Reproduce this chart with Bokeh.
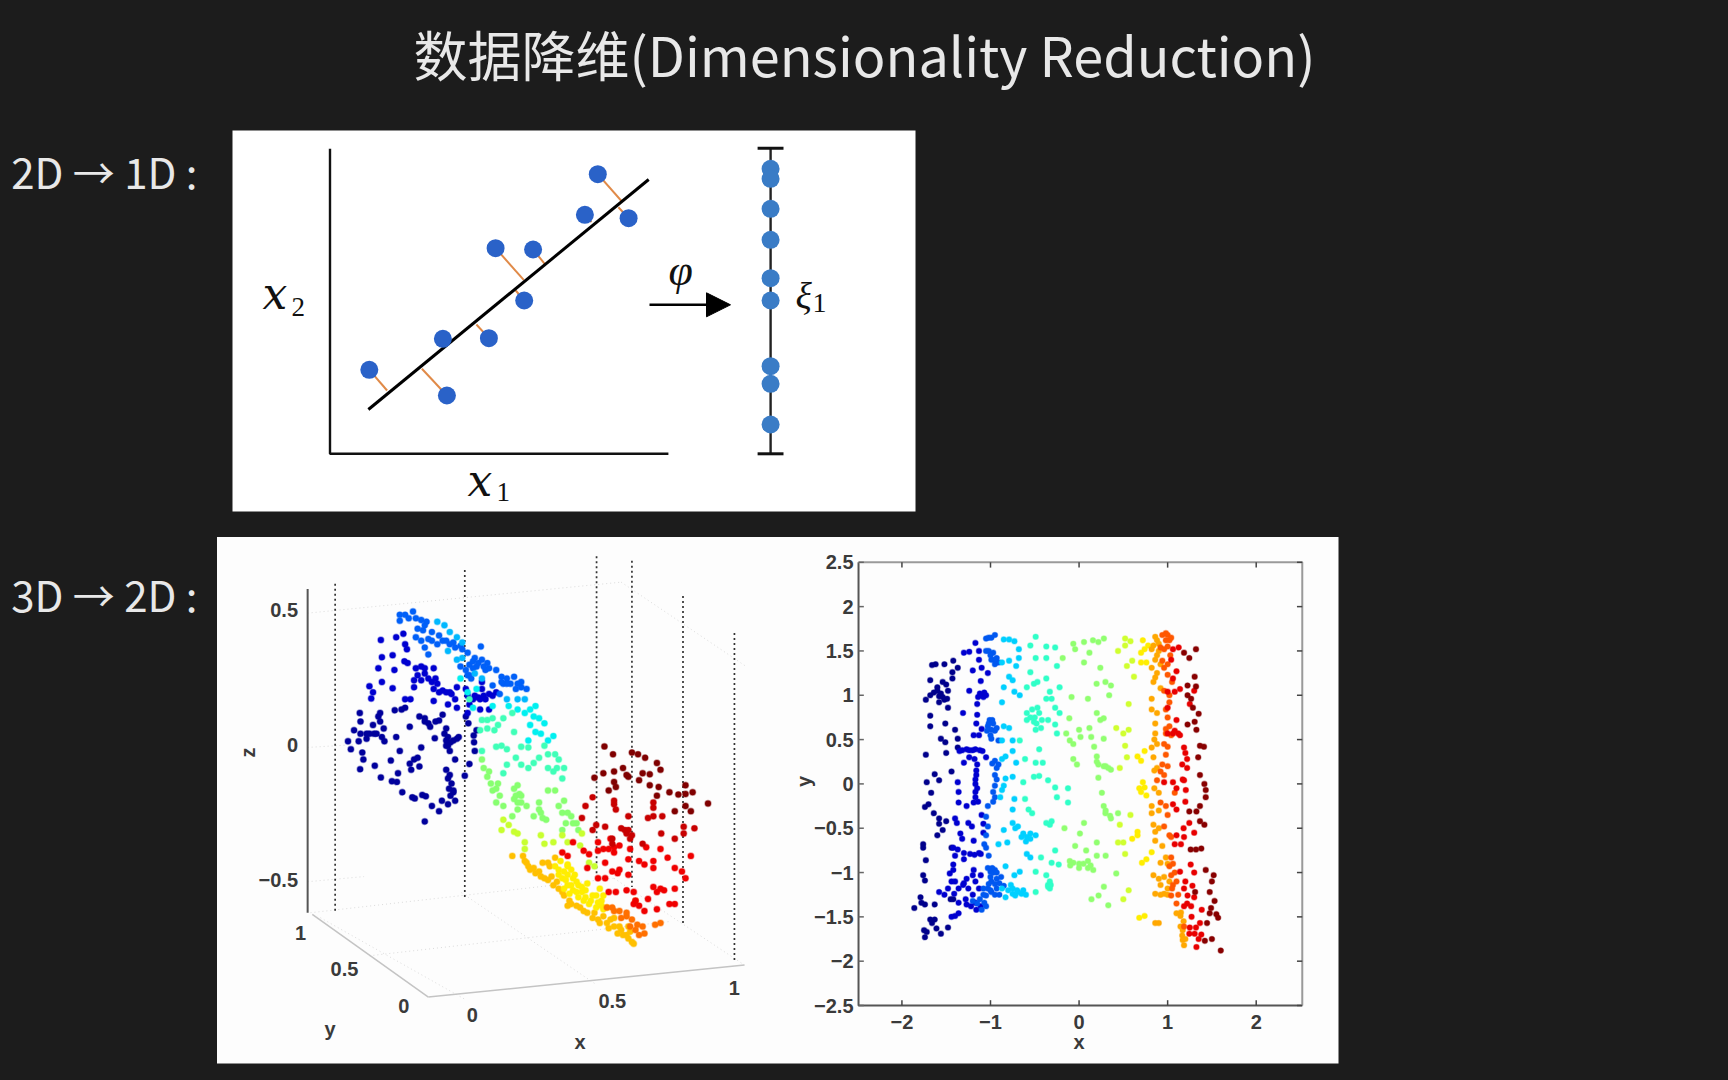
from bokeh.plotting import figure
from bokeh.embed import file_html
from bokeh.resources import INLINE
from bokeh.core.properties import value
from bokeh.models import Range1d, Arrow, NormalHead
import math

BG = "#1c1c1c"
TITLE = "数据降维(Dimensionality Reduction)"
LABEL_TOP = "2D → 1D :"
LABEL_BOTTOM = "3D → 2D :"

# ---- top diagram (read in page pixels)
pca_x = [368.8, 446.4, 442.4, 488.4, 523.7, 495.1, 532.6, 584.4, 628.1, 597.3]
pca_y = [369.3, 395.0, 338.3, 337.7, 300.0, 247.7, 249.0, 214.3, 217.7, 173.7]
foot_x = [386.6, 421.4, 446.9, 475.9, 515.2, 523.2, 544.2, 591.0, 617.9, 621.4]
foot_y = [390.0, 368.3, 335.0, 324.0, 290.0, 279.3, 263.3, 221.7, 206.7, 201.0]
foot_of = [0, 1, 2, 3, 4, 5, 6, 7, 8, 9]
xi_y = [168.3, 178.3, 208.3, 239.3, 277.7, 300.0, 365.7, 383.3, 424.0]

# ---- right panel, x/y data by colour band
navy_2d = [(-1.74,-1.73),(-1.75,-1.65),(-1.72,-1.67),(-1.68,-1.53),(-1.63,-1.53),(-1.66,-1.57),(-1.61,-1.63),(-1.56,-1.69),(-1.48,-1.62),
 (-1.86,-1.40),(-1.79,-1.28),(-1.78,-1.34),(-1.74,-1.36),(-1.63,-1.36),(-1.74,-1.09),(-1.76,-1.03),(-1.73,-.86),(-1.76,-.68),(-1.76,-.72),
 (-1.74,-.26),(-1.70,-.23),(-1.67,-.10),(-1.72,.02),(-1.58,.04),(-1.63,.11),(-1.73,.33),(-1.44,.14),(-1.64,-.33),(-1.58,-.39),(-1.60,-.58),
 (-1.50,-.42),(-1.54,-.52),(-1.68,.65),(-1.68,.77),(-1.51,.68),(-1.56,.51),(-1.51,.47),(-1.50,.35),(-1.40,.61),(-1.37,.51),(-1.37,.41),
 (-1.73,.95),(-1.68,1.0),(-1.64,1.03),(-1.58,.99),(-1.54,.98),(-1.49,.96),(-1.48,.86),(-1.60,1.09),(-1.54,1.15),(-1.68,1.17),(-1.66,1.34),
 (-1.62,1.35),(-1.52,1.35),(-1.43,1.26),(-1.43,1.19),(-1.42,1.39),(-1.37,1.31),
 (-1.56,1.02),(-1.52,.95),(-1.58,.92),(-1.60,1.05),(-1.48,1.05),(-1.50,1.12),(-1.58,-.45),(-1.44,-.72),(-1.45,-1.30),(-1.42,-1.30)]
blue_2d = [(-1.40,-1.49),(-1.44,-1.50),(-1.36,-1.46),(-1.58,-1.22),(-1.52,-1.25),(-1.48,-1.18),(-1.41,-1.24),(-1.44,-1.10),(-1.46,-1.01),(-1.42,-.91),
 (-1.40,-.81),(-1.30,-.85),(-1.23,-.79),(-1.11,-.79),(-1.42,-.72),(-1.37,-.74),(-1.34,-.56),(-1.32,-.62),(-1.38,-.44),(-1.40,-.39),(-1.25,-.44),(-1.21,-.48),(-1.19,-.64),
 (-1.37,.02),(-1.36,-.09),(-1.36,-.21),(-1.27,-.25),(-1.19,-.21),(-1.17,-.09),(-1.17,0),(-1.16,.10),(-1.15,.22),(-1.30,.24),(-1.24,.30),(-1.35,.37),(-1.27,.39),(-1.17,.39),
 (-1.09,.37),(-1.05,.30),(-1.19,.55),(-1.13,.55),(-1.31,.80),(-1.15,.78),(-1.16,.68),(-1.24,1.05),(-1.15,.90),(-1.11,1.0),(-1.05,1.0),(-1.11,1.16),(-1.20,1.28),(-1.10,1.31),
 (-1.03,1.25),(-1.13,1.40),(-1.13,1.50),(-1.17,1.59),(-1.30,1.48),(-1.24,1.49),(-1.31,-1.14),(-1.25,-1.18),(-1.27,-1.07),(-1.19,-.97),(-1.17,-1.10),(-1.11,-1.03),(-1.13,-1.18),
 (-1.36,-1.34),(-1.27,-1.36),(-1.22,-1.38),(-1.16,-1.42),(-1.11,-1.38),(-1.17,-1.34),
 (-1.17,.05),(-1.15,-.05),(-1.17,-.15),(-1.16,.15),(-1.18,.28),(-1.20,.38),(-1.12,.38),(-1.24,.38),(-1.32,.38),(-1.14,-.20),(-1.10,-.35),(-1.08,-.45),(-1.08,-.55),(-1.30,-.78),
 (-1.18,-.80),(-1.13,-.78),(-1.42,-.97),(-1.40,-1.10),(-1.36,-1.18),(-1.20,-1.25),(-1.28,-1.30),(-1.30,-1.12),(-1.20,-1.03),(-1.14,.98),(-1.08,.98),(-1.07,1.03),(-1.10,.62),(-1.12,1.02)]
azure_2d = [(-1.05,-1.26),(-1.07,-1.34),(-1.03,-1.18),(-.99,-1.10),(-1.0,-.99),(-.95,-.97),(-.93,-1.07),(-.99,-1.22),(-.93,-1.18),(-.90,-1.12),
 (-1.07,-.68),(-1.05,-.58),(-1.03,-.48),(-1.05,-.37),(-1.03,-.25),(-1.05,-.72),(-1.02,-.81),(-.95,.10),(-.95,-.02),(-.93,.18),(-.95,.26),(-.91,.22),(-.97,-.09),
 (-1.03,.65),(-.99,.61),(-1.01,.72),(-.97,.68),(-.99,.51),(-.91,.49),(-1.05,1.50),(-.97,1.48),(-.93,1.42),(-.99,1.40),(-1.05,1.64),(-.99,1.65),(-.95,1.68),(-.91,1.37),
 (-1.0,-1.05),(-.97,-1.0),(-.93,-1.0),(-.95,-1.13),(-1.02,-1.13),(-1.0,-1.2),(-.95,-1.25),(-.9,-1.25),(-1.08,-1.25),(-1.12,-1.3),(-1.15,-1.35),(-1.1,-1.42),(-1.05,-1.38),(-1.2,-1.32),
 (-1.08,-1.18),(-.98,-.95),(-.88,-1.05),(-.85,-1.15),(-1.02,.68),(-1.04,.6),(-.95,.6),(-.98,.72),(-.93,.63),(-1.0,.55),(-.98,.23),(-.93,.05),(-.95,-.15),(-.97,-.2),(-1.02,1.5),
 (-1.0,1.45),(-.96,1.4),(-.95,1.35),(-1.02,1.65),(-1.03,-.95)]
sky_2d = [(-.85,1.63),(-.79,1.63),(-.73,1.61),(-.87,1.37),(-.79,1.39),(-.71,1.33),(-.68,1.52),(-.68,1.42),(-.79,1.21),(-.75,1.17),(-.73,1.04),(-.67,1.0),(-.85,1.09),(-.87,.92),
 (-.85,.65),(-.79,.63),(-.75,.49),(-.87,.49),(-.87,.28),(-.83,.31),(-.71,.24),(-.75,.37),(-.83,.06),(-.75,.08),(-.87,-.07),(-.89,-.15),(-.85,-.02),(-.73,-.17),(-.75,-.29),
 (-.85,-.52),(-.91,-.68),(-.81,-.66),(-.75,-.44),(-.69,-.48),(-.63,-.56),(-.59,-.60),(-.55,-.56),(-.49,-.58),(-.83,-.93),(-.87,-1.18),(-.83,-1.28),(-.77,-1.14),(-.75,-1.24),
 (-.69,-1.22),(-.63,-1.20),(-.67,-.99),(-.73,-1.03),(-.59,-.79),(-.55,-.83),
 (-.8,-1.2),(-.72,-1.26),(-.7,-1.2),(-.75,-1.18),(-.65,-1.24),(-.6,-1.25),(-.6,-.65),(-.55,-.62),(-.65,-.6),(-.72,-.5)]
teal_2d = [(-.49,1.66),(-.55,1.56),(-.49,1.42),(-.55,1.26),(-.59,1.09),(-.51,1.13),(-.47,1.15),(-.59,.80),(-.53,.84),(-.47,.86),(-.59,.72),(-.51,.70),(-.49,.61),(-.43,.63),(-.45,.80),
 (-.67,.49),(-.45,.39),(-.61,.28),(-.49,.24),(-.41,.24),(-.63,.02),(-.51,.08),(-.45,.09),(-.61,-.17),(-.57,-.29),(-.53,-.33),(-.49,-.99),(-.49,-1.22),(-.43,-.83),(-.37,-.44),
 (-.31,-.42),(-.33,-.46),(-.35,-1.14),(-.33,-1.10),(-.37,-1.03),(-.31,-.89),(-.27,-.75),(-.23,-.91),(-.27,-.04),(-.25,-.15),(-.125,-.05),(-.125,-.21),(-.35,.04),
 (-.37,1.55),(-.27,1.54),(-.37,1.42),(-.25,1.33),(-.37,1.19),(-.33,1.04),(-.22,1.09),(-.31,.96),(-.27,.86),(-.22,.80),(-.35,.72),(-.27,.67),(-.25,.57),(-.37,.96),
 (-.55,.75),(-.5,.75),(-.48,.68),(-.42,.72),(-.33,-1.18),(-.35,-1.16),(-.32,-1.14)]
green_2d = [(-.165,-.50),(-.105,-.87),(-.044,-.70),(-.065,-.89),(0,-.95),(.08,-.75),(.056,-.44),(.01,-.56),(.10,-.87),(.16,-.97),(.2,-.81),(.30,-.81),(.2,-.66),(.28,-1.16),(.22,-1.26),
 (.14,-1.30),(.33,-1.37),(.42,-1.01),(-.085,.98),(.10,.96),(-.11,.74),(-.145,.57),(-.105,.49),(-.065,.45),(0,.61),(.016,.53),(.117,.63),(.137,.53),(.278,.51),(.17,.42),
 (-.044,1.52),(-.065,1.58),(.056,1.60),(.157,1.62),(.218,1.60),(.28,1.64),(.117,1.48),(.056,1.37),(-.185,1.42),(.24,1.31),(.198,1.13),(.298,1.15),(.36,1.11),(.34,1.0),(.2,.80),
 (.24,.72),(.278,.74),(-.024,.22),(-.065,.28),(.2,.31),(.218,.22),(.278,.20),(.36,.16),(.218,.07),(.258,-.10),(.278,-.25),(.298,-.33),(.36,-.39),(.44,-.33),
 (0,-.9),(.05,-.9),(.1,-.95),(.13,-.92),(-.1,-.92),(.2,.25),(.3,.2),(.33,.18),(.35,-.36),(.3,-.3)]
lime_2d = [(.46,-.46),(.5,-.66),(.44,-.66),(.56,-1.2),(.5,-1.3),(.58,-.35),(.52,-.79),(.46,.18),(.54,.30),(.52,.43),(.5,.57),(.56,.61),(.42,.63),(.54,1.33),(.6,1.39),(.52,1.64),
 (.58,1.61),(.52,1.56),(.44,1.5),(.56,.9),(.62,1.21)]
yellow_2d = [(.68,-1.51),(.74,-1.49),(.71,-.89),(.76,-.85),(.82,-.77),(.66,-.58),(.6,-.62),(.66,-.54),(.70,-.09),(.74,-.04),(.72,.02),(.76,-.13),(.68,-.05),(.66,.31),(.70,.26),(.74,.37),
 (.74,1.52),(.70,1.48),(.72,1.62),(.78,1.56),(.76,1.37),(.70,1.37)]
orange_2d = [(.86,-1.57),(.90,-1.57),(.86,-1.24),(.90,-1.07),(.84,-1.03),(.96,-1.24),(1.0,-1.18),(.92,-1.14),(.92,-.89),(.98,-.83),(.86,-.64),(.86,-.54),(.84,-.46),(.82,-.25),(.82,-.33),
 (.84,.30),(.82,.41),(.86,.57),(.86,.68),(.82,.84),(.82,.96),(.84,1.15),(.82,1.31),(.86,1.40),(.82,1.52),(.86,1.66),(.90,1.58),(.84,1.56),(1.165,-1.71),(1.185,-1.82),(1.145,-1.61),
 (1.10,-1.46),(1.145,-1.49),(1.17,-1.76),
 (.88,1.62),(.9,1.5),(.88,1.45),(.92,1.35),(.88,1.25),(.86,1.2),(.92,1.08),(.88,.8),(.85,.5),(.88,.45),(.85,.15),(.88,.18),(.85,-.05),(.9,-.1),(.9,-.3),(.9,-.5),(.94,-.7),(1.0,-.9),
 (1.02,-1.1),(1.0,-1.25),(1.15,-1.45),(1.18,-1.55),(1.17,-1.65),(1.2,-1.75),(.96,-1.05),(.92,-1.25)]
ember_2d = [(.94,1.68),(.98,1.70),(.98,1.62),(.92,1.54),(.96,1.52),(1.02,1.62),(.94,1.39),(.96,1.31),(1.0,1.23),(.96,1.05),(.98,.84),(.98,.57),(.96,.45),(.98,.33),(.94,.22),(.92,.14),
 (.88,.04),(.92,-.21),(.98,-.25),(.96,-.48),(1.02,-.58),(1.04,-.83),(1.02,-.93),(1.04,-1.03),(1.06,-1.14),(1.04,-1.26),(1.185,-1.61),
 (1.0,1.68),(1.04,1.65),(1.0,1.55),(1.03,1.45),(1.0,1.35),(1.05,1.15),(1.02,1.0),(1.02,.92),(1.0,.75),(1.02,.65),(.98,.62),(1.04,.55),(1.0,.42),(1.0,.2),(.96,.1),(1.0,-.35),(1.08,-.1),
 (1.04,-.6),(1.06,-.9),(1.08,-1.0),(1.1,-1.1),(1.1,-1.35),(1.12,-1.25),(1.05,-1.18)]
red_2d = [(1.06,1.52),(1.125,1.54),(1.04,1.40),(1.10,1.27),(1.06,1.19),(1.0,1.04),(1.08,1.04),(1.14,1.07),(1.0,.86),(1.10,.72),(1.0,.57),(1.06,.57),(1.14,.55),(1.185,.41),(1.165,.22),
 (1.22,.18),(.96,.02),(1.06,.02),(1.185,.04),(1.205,-.07),(1.06,-.23),(1.10,-.29),(1.245,-.44),(1.185,-.60),(1.10,-.58),(1.08,-.68),(1.14,-.99),(1.26,-.91),(1.185,-1.18),(1.225,-1.26),
 (1.265,-1.38),(1.185,-1.38),(1.245,-1.69),(1.325,-1.84),(1.305,-1.69),(1.365,-1.57),(1.385,-1.42),
 (1.08,.6),(1.12,.57),(1.2,.35),(1.22,.28),(1.17,.05),(1.1,-.05),(1.2,-.2),(1.18,-.5),(1.15,-.68),(1.2,-1.1),(1.3,-1.0),(1.28,-1.15),(1.22,-1.35),(1.27,-1.5),(1.25,-1.62),(1.32,-1.62),
 (1.38,-1.7),(1.35,-1.75),(1.3,-1.28),(1.3,-.55),(1.25,.9),(1.3,1.05)]
maroon_2d = [(1.32,1.52),(1.185,1.48),(1.245,1.42),(1.305,1.21),(1.225,1.11),(1.32,1.10),(1.225,1.0),(1.265,.96),(1.285,.86),(1.35,.79),(1.305,.70),(1.225,.67),(1.325,.61),(1.365,.43),
 (1.41,.42),(1.345,.30),(1.365,.10),(1.415,0),(1.43,-.07),(1.43,-.15),(1.365,-.25),(1.325,-.31),(1.245,-.31),(1.365,-.42),(1.415,-.46),(1.26,-.74),(1.32,-.74),(1.38,-.73),(1.43,-.97),
 (1.52,-1.03),(1.50,-1.10),(1.31,-1.22),(1.475,-1.22),(1.53,-1.32),(1.49,-1.40),(1.475,-1.46),(1.55,-1.47),(1.57,-1.51),(1.445,-1.57),(1.50,-1.75),(1.42,-1.77),(1.60,-1.88)]
bands_2d = [(navy_2d,"#00008c"),(blue_2d,"#0000d0"),(azure_2d,"#0058f0"),(sky_2d,"#00d0ff"),(teal_2d,"#30ffc8"),(green_2d,"#90ff70"),
            (lime_2d,"#d0ff30"),(yellow_2d,"#ffee00"),(orange_2d,"#ffa800"),(ember_2d,"#ff5800"),(red_2d,"#e80000"),(maroon_2d,"#880000")]
xticks_2d = [-2, -1, 0, 1, 2]
xtick_labels_2d = ["−2", "−1", "0", "1", "2"]
yticks_2d = [-2.5, -2, -1.5, -1, -0.5, 0, 0.5, 1, 1.5, 2, 2.5]
ytick_labels_2d = ["−2.5", "−2", "−1.5", "−1", "−0.5", "0", "0.5", "1", "1.5", "2", "2.5"]

# ---- left panel: the projected picture of the 3D cloud
navy_3d = [(385,612),(393,635),(402,580),(415,612),(418,530),(420,555),(425,645),(428,665),(419,693),(437,590),(437,605),(455,565),(458,590),(465,590),(485,575),(470,540),(475,530),(480,600),
 (487,612),(520,600),(460,683),(477,717),(505,668),(508,728),(525,705),(522,730),(530,640),(537,760),(565,775),(572,778),(593,768),(603,772),(600,845),(620,800),(640,815),(648,785),(665,795),
 (685,785),(680,760),(675,735),(670,710),(660,695),(680,755),(712,712),(725,678),(558,677),(570,665),(580,660),(590,630),(562,695),(585,685),(628,603),(600,555),(615,570),(630,555),(640,552),
 (585,540),(558,570),(516,522),(535,520),(545,515),(655,590),(660,610),(665,625),(670,640),(680,610),(695,600),(660,575),(685,665),(737,595),(738,615),(740,640),(715,540),(745,580),(722,560),(650,535),
 (665,600),(672,615),(690,605),(660,625),(665,720),(668,750),(672,770),(600,545),(610,560),(420,590),(445,590),(475,555)]
blue_3d = [(477,318),(470,400),(480,368),(510,362),(515,405),(480,440),(445,452),(455,470),(450,488),(510,458),(520,310),(540,300),(545,330),(550,345),(543,380),(552,385),(575,400),(590,395),(580,420),
 (570,435),(600,415),(625,400),(570,455),(620,440),(635,445),(625,460),(640,470),(660,470),(675,475),(685,490),(625,495),(560,490),(545,490),(665,505),(690,515),(725,505),(735,490),(750,485),(770,490),
 (780,475),(800,470),(760,440),(755,520),(780,520),(720,530),(715,460),(690,455),
 (600,400),(610,430),(590,435),(630,430),(650,465),(670,470),(740,480),(765,480),(790,480),(760,460),(755,490),(720,480)]
azure_3d = [(530,245),(545,245),(567,235),(530,262),(575,255),(590,260),(605,265),(580,285),(595,290),(575,310),(590,320),(610,315),(600,340),(610,360),(620,320),(635,330),(650,320),(670,330),(685,340),
 (705,345),(720,355),(740,370),(760,375),(775,385),(725,390),(715,405),(725,420),(745,395),(770,405),(757,337),(800,405),(815,425),(830,430),(850,425),(870,440),(885,460),(840,445),(855,460),(820,445),(790,450),(810,475),
 (555,255),(600,275),(620,295),(640,305),(660,320),(680,325),(700,335),(735,380),(750,385),(765,395),(735,400),(780,400),(830,445),(860,445),(870,455),(815,440),(720,420),(730,430),(700,395)]
sky_3d = [(635,265),(655,275),(670,295),(690,310),(705,325),(665,350),(690,375),(705,370),(740,415),(760,430),(860,490),(880,490),(830,490)]
cyan_3d = [(700,430),(720,470),(745,460),(735,515),(790,510),(835,510),(860,520),(895,520),(910,510),(920,545),(905,540),(935,560),(895,565),(910,585),(925,590),(945,610),(960,597),(890,610),(880,530)]
teal_3d = [(725,490),(760,550),(775,550),(790,545),(805,565),(820,545),(845,530),(795,580),(775,575),(850,585),(755,580),(800,628),(815,625),(830,635),(870,628),(890,630),(935,625),(945,650),(965,650),
 (975,665),(990,690),(970,690),(855,660),(830,680),(870,680),(890,690),(905,675),(920,660),(945,690),(960,700),(985,720),(820,705),(760,640)]
green_3d = [(765,690),(775,715),(785,735),(805,735),(760,665),(790,755),(810,770),(860,740),(865,765),(850,780),(870,790),(860,810),(885,800),(945,755),(965,755),(990,785),(975,800),(920,790),(905,830),
 (925,820),(940,840),(985,820),(995,850),(1010,830),(1025,850),(1030,870),(800,790),(820,800),(845,830),(850,750),(855,770),(870,770),(860,790),(800,750),(780,700),(920,810),(930,835),(1000,820),(1015,850),(985,870)]
lime_3d = [(820,840),(835,855),(850,875),(860,880),(880,905),(880,925),(925,885),(935,910),(960,905),(985,885),(1000,905),(1040,880),(1035,915),(1060,965),(1075,975),(815,870)]
gold_3d = [(845,945),(875,945),(885,965),(895,985),(910,995),(925,1005),(945,1015),(960,1030),(985,1050),(1005,1075),(1035,1095),(1055,1110),(1085,1130),(1110,1140),(1130,1150),(1150,1160),(1170,1185),
 (1185,1200),(930,965),(950,975),(1000,1090),(1130,1125),(1155,1175),(1100,1120),(1075,1110),
 (890,975),(905,980),(880,960),(920,990),(935,1010),(955,1005),(970,1020),(975,1040),(990,1060),(1010,1085),(1025,1090),(1045,1105),(1070,1125),(1090,1140),(1115,1155),(1140,1170),(1165,1175),(1175,1165),
 (945,965),(965,950),(1120,1130),(1145,1150),(1170,1150),(1180,1195)]
yellow_3d = [(980,960),(975,985),(990,990),(985,1010),(1000,1030),(1015,1045),(1030,1065),(1045,1075),(1060,1085),(1080,1095),(1100,1100),(1090,1040),(1055,1025),(1000,975),(1015,1010),(1030,1030),(1070,1060),(1095,1075),(1005,1055),
 (965,975),(1000,1000),(975,1000),(1010,985),(1025,1020),(995,1015),(1010,1030),(1040,1050),(1025,1050),(1050,1045),(1065,1075),(1085,1080),(1050,1065),(1080,1060),(1100,1060),(1095,1090),(1110,1095),(1040,1035),(990,1040),(1000,970),(1020,1000)]
orange_3d = [(1125,1095),(1145,1105),(1165,1120),(1180,1130),(1195,1145),(1215,1170),(1200,1175),(1245,1145),(1260,1140),(1190,1075),(1165,1110),(1130,1105),(1150,1125),(1175,1150),(1190,1160),(1210,1150),(1110,1095)]
red_3d = [(985,935),(1000,945),(1015,905),(1045,930),(1060,940),(1085,905),(1085,930),(1100,925),(1120,895),(1130,920),(1145,915),(1105,965),(1125,990),(1145,985),(1170,1000),(1085,1010),(1115,1050),(1135,1050),(1165,1045),
 (1185,1050),(1185,1085),(1190,1075),(1215,1105),(1225,1070),(1250,1100),(1285,1085),(1300,1085),(1240,1035),(1260,1040),(1250,1050),(1300,1040),(1215,970),(1240,980),(1260,925),(1280,950),(1300,980),(1320,990),(1330,1010),
 (1175,925),(1220,920),(1170,955),(1345,945),(1105,1010),(1055,980),(1240,960),(1200,960),(1130,935),(1115,925),(1140,995),(1270,1045),(1200,1090)]
crimson_3d = [(1040,835),(1070,870),(1080,855),(1105,860),(1050,800),(1130,795),(1135,810),(1170,830),(1150,865),(1165,880),(1180,885),(1210,910),(1225,835),(1240,830),(1265,830),(1262,880),(1300,895),(1325,860),(1325,880),(1355,865),
 (1240,790),(1240,805),(1125,895),(1125,910),(1070,775),(1160,870),(1170,870),(1175,895),(1130,785)]
maroon_3d = [(1103,627),(1127,650),(1180,645),(1197,650),(1217,660),(1250,675),(1260,695),(1075,718),(1100,705),(1130,700),(1155,690),(1165,710),(1200,725),(1210,705),(1230,708),(1130,730),(1115,755),(1135,745),(1230,740),(1255,745),
 (1285,760),(1310,767),(1330,740),(1330,765),(1350,760),(1393,793),(1330,800),(1300,815),(1345,815),(1250,770),(1170,715)]
bands_3d = [(navy_3d,"#00009c"),(blue_3d,"#0000d0"),(azure_3d,"#0060f8"),(sky_3d,"#00b8ff"),(cyan_3d,"#00f0f0"),(teal_3d,"#40ffb8"),(green_3d,"#88ff70"),
            (lime_3d,"#c8ff30"),(gold_3d,"#ffc000"),(yellow_3d,"#ffee00"),(orange_3d,"#ff7000"),(red_3d,"#f00000"),(crimson_3d,"#c80000"),(maroon_3d,"#800000")]
stems_x = [349, 712, 1081, 1180, 1323, 1467]
stems_top = [155, 115, 75, 88, 190, 298]
stems_bottom = [1105, 1065, 995, 1035, 1140, 1250]
box_lines = [((272,240),(1150,150)),((1150,150),(1500,395)),((280,1110),(1130,1010)),((1130,1010),(1495,1262)),((445,1235),(1290,1135)),((710,1360),(300,1120)),((1075,1315),(700,1050)),((272,630),(400,622)),((272,1020),(430,1005))]
frame_lines = [((285,1115),(610,1355)),((610,1355),(1495,1262))]
labels_3d = [("0.5",245,232,"right"),("0",245,623,"right"),("−0.5",245,1015,"right"),("1",252,1168,"center"),("0.5",375,1272,"center"),("0",541,1380,"center"),
             ("y",335,1447,"center"),("0",733,1408,"center"),("0.5",1125,1365,"center"),("1",1467,1330,"center"),("x",1035,1485,"center")]

W, H = 1728, 1080
p = figure(width=W, height=H, x_range=Range1d(0, W), y_range=Range1d(H, 0), x_axis_type=None, y_axis_type=None,
           output_backend="svg", toolbar_location=None, min_border=0, outline_line_color=None,
           background_fill_color=BG, border_fill_color=BG)
p.grid.visible = False
# image-style frame for the 3D picture (zoom pixels) and data range for the 2D one
p.extra_x_ranges["proj"] = Range1d((0-210)*2.8, (W-210)*2.8)
p.extra_y_ranges["proj"] = Range1d((H-530)*2.904, (0-530)*2.904)
p.extra_x_ranges["map"] = Range1d((0-1078.57)/88.57, (W-1078.57)/88.57)
p.extra_y_ranges["map"] = Range1d(-(H-783.4)/88.64, (783.4-0)/88.64)

def txt(x, y, s, size, color, align="center", base="middle", font="Liberation Sans", style="normal", angle=0, **kw):
    p.text([x], [y], text=[s], text_font=value(font), text_font_size=f"{size}px", text_color=color, text_align=align,
           text_baseline=base, text_font_style=style, angle=angle, **kw)

# titles
txt(864, 53, TITLE, 54, "#e8e8e8", font="Noto Sans CJK SC")
txt(197, 170, LABEL_TOP, 42, "#e8e8e8", align="right", font="Noto Sans CJK SC")
txt(197, 593, LABEL_BOTTOM, 42, "#e8e8e8", align="right", font="Noto Sans CJK SC")

# panels
p.quad(left=[232], right=[915], top=[130], bottom=[511], fill_color="#ffffff", line_color=None)
p.quad(left=[216.5], right=[1338], top=[536.5], bottom=[1063], fill_color="#fdfdfd", line_color=None)

# top diagram
p.line([329.5, 329.5, 667.9], [148.3, 453.3, 453.3], line_color="#111111", line_width=2.4)
p.segment([pca_x[i] for i in foot_of], [pca_y[i] for i in foot_of], foot_x, foot_y, line_color="#e08a48", line_width=2)
p.line([367.9, 648.2], [409, 179], line_color="#000000", line_width=3)
p.scatter(pca_x, pca_y, size=18, marker="circle", fill_color="#2a62c8", line_color=None)
p.line([770.1, 770.1], [147.7, 453.3], line_color="#222222", line_width=2.4)
p.segment([757.1, 757.1], [147.7, 453.3], [783, 783], [147.7, 453.3], line_color="#111111", line_width=3)
p.scatter([770.1]*len(xi_y), xi_y, size=18, marker="circle", fill_color="#3a7cc6", line_color=None)
p.add_layout(Arrow(end=NormalHead(size=24, fill_color="#000000", line_color="#000000"), x_start=649, y_start=304.3, x_end=730, y_end=304.3,
                   line_color="#000000", line_width=2.4))
txt(262, 293, "x", 44, "#111111", "left", "middle", "DejaVu Serif", "italic")
txt(291, 306, "2", 27, "#111111", "left", "middle", "Liberation Serif")
txt(467, 480, "x", 44, "#111111", "left", "middle", "DejaVu Serif", "italic")
txt(496, 491, "1", 27, "#111111", "left", "middle", "Liberation Serif")
txt(668, 270, "φ", 44, "#111111", "left", "middle", "Liberation Serif", "italic")
txt(795, 295, "ξ", 38, "#111111", "left", "middle", "Liberation Serif", "italic")
txt(812, 302, "1", 28, "#111111", "left", "middle", "Liberation Serif")

# 3D panel
P3 = dict(x_range_name="proj", y_range_name="proj")
for a, b in box_lines:
    p.line([a[0], b[0]], [a[1], b[1]], line_color="#dcdcdc", line_width=1, line_dash="1 3", **P3)
for a, b in frame_lines:
    p.line([a[0], b[0]], [a[1], b[1]], line_color="#c4c4c4", line_width=1.5, **P3)
p.line([272, 272], [170, 1110], line_color="#555555", line_width=2, **P3)
for sx, st, sb in zip(stems_x, stems_top, stems_bottom):
    p.line([sx, sx], [st, sb], line_color="#333333", line_width=1.7, line_dash="2 3", **P3)
for pts, col in bands_3d:
    p.scatter([q[0] for q in pts], [q[1] for q in pts], size=6, marker="circle", fill_color=col, line_color=col, line_alpha=0.4, line_width=1.4, **P3)
for s, x, y, al in labels_3d:
    txt(x, y, s, 20, "#3a3a3a", al, "middle", "Liberation Sans", "bold", **P3)
txt(105, 645, "z", 20, "#3a3a3a", "center", "middle", "Liberation Sans", "bold", angle=math.pi/2, **P3)

# 2D panel
M = dict(x_range_name="map", y_range_name="map")
p.line([-2.49, -2.49, 2.52], [2.5, -2.5, -2.5], line_color="#555555", line_width=2, **M)
p.line([-2.49, 2.52, 2.52], [2.5, 2.5, -2.5], line_color="#9a9a9a", line_width=2, **M)
p.segment(xticks_2d, [-2.5]*5, xticks_2d, [-2.44]*5, line_color="#444444", line_width=1.5, **M)
p.segment(xticks_2d, [2.5]*5, xticks_2d, [2.44]*5, line_color="#444444", line_width=1.5, **M)
p.segment([-2.49]*11, yticks_2d, [-2.43]*11, yticks_2d, line_color="#666666", line_width=1.5, **M)
p.segment([2.52]*11, yticks_2d, [2.46]*11, yticks_2d, line_color="#444444", line_width=1.5, **M)
for pts, col in bands_2d:
    p.scatter([q[0] for q in pts], [q[1] for q in pts], size=5.5, marker="circle", fill_color=col, line_color=col, line_alpha=0.4, line_width=1.2, **M)
for t, s in zip(xticks_2d, xtick_labels_2d):
    p.text([t], [-2.5], text=[s], y_offset=16, text_font=value("Liberation Sans"), text_font_size="20px", text_font_style="bold",
           text_color="#3a3a3a", text_align="center", text_baseline="middle", **M)
for t, s in zip(yticks_2d, ytick_labels_2d):
    p.text([-2.49], [t], text=[s], x_offset=-5, text_font=value("Liberation Sans"), text_font_size="20px", text_font_style="bold",
           text_color="#3a3a3a", text_align="right", text_baseline="middle", **M)
txt(1078.6, 1041, "x", 20, "#3a3a3a", "center", "middle", "Liberation Sans", "bold")
txt(803, 781, "y", 20, "#3a3a3a", "center", "middle", "Liberation Sans", "bold", angle=math.pi/2)

open("out.html", "w").write(file_html(p, INLINE).replace("<body>", f'<body style="background:{BG}">'))
